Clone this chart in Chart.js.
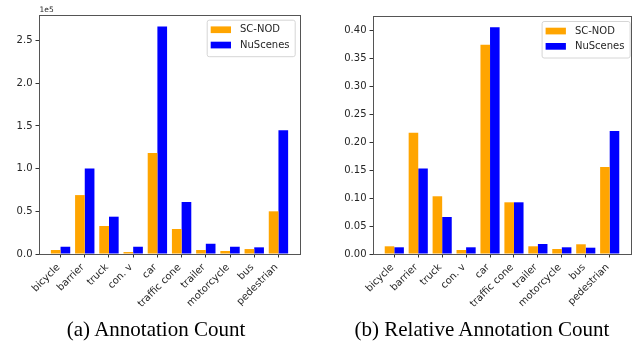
<!DOCTYPE html>
<html>
<head>
<meta charset="utf-8">
<script src="https://cdn.jsdelivr.net/npm/chart.js@4.4.0/dist/chart.umd.min.js"></script>
<style>
html, body { margin: 0; padding: 0; background: #fff; }
#wrap { position: relative; width: 634px; height: 343px; overflow: hidden; }
.panel { position: absolute; top: 0; width: 317px; height: 343px; }
.cap {
    position: absolute; top: 319px; line-height: 21px;
    font-family: "Liberation Serif", "Times New Roman", serif; font-size: 21px;
    color: #000; white-space: nowrap; transform: translateX(-50%);
}
</style>
</head>
<body>
<div id="wrap">
    <div class="panel" style="left:0"><canvas id="countChart" width="317" height="343"></canvas></div>
    <div class="panel" style="left:317px"><canvas id="relChart" width="317" height="343"></canvas></div>
    <div class="cap" style="left:156px">(a) Annotation Count</div>
    <div class="cap" style="left:482px">(b) Relative Annotation Count</div>
</div>
<script>
// Data
const categories = ['bicycle', 'barrier', 'truck', 'con. v', 'car', 'traffic cone', 'trailer', 'motorcycle', 'bus', 'pedestrian'];
const seriesNames = ['SC-NOD', 'NuScenes'];

const scnodCount    = [4700, 69000, 32800, 2300, 118300, 29300, 4700, 3500, 5800, 50000];
const nuscenesCount = [8500, 100000, 43700, 8500, 266600, 60900, 12000, 8500, 7800, 144800];

const scnodRel    = [0.0138, 0.217, 0.1034, 0.0072, 0.3746, 0.0926, 0.0138, 0.009, 0.0174, 0.156];
const nuscenesRel = [0.0120, 0.153, 0.0663, 0.0120, 0.4060, 0.0926, 0.0179, 0.012, 0.0113, 0.2204];

const countTicks = [0, 50000, 100000, 150000, 200000, 250000];
const relTicks = [0, 0.05, 0.10, 0.15, 0.20, 0.25, 0.30, 0.35, 0.40];

const ORANGE = '#FFA500';
const BLUE = '#0000FF';
const TEXT = '#262626';
const SPINE = '#555';

// frame round the plot area (all four spines), drawn above the bars
const framePlugin = {
    id: 'frame',
    afterDatasetsDraw(chart) {
        const { ctx, chartArea: a } = chart;
        ctx.save();
        ctx.strokeStyle = SPINE;
        ctx.lineWidth = 1;
        ctx.strokeRect(Math.round(a.left) + 0.5, Math.round(a.top) + 0.5,
            Math.round(a.right - a.left), Math.round(a.bottom - a.top));
        ctx.restore();
    }
};

// matplotlib-style legend box in the upper right corner
const legendBoxPlugin = {
    id: 'legendBox',
    afterDraw(chart, args, opts) {
        const { ctx, chartArea: a } = chart;
        const w = 88, h = 36.5;
        const x = a.right - opts.right - w;
        const y = a.top + opts.top;
        ctx.save();
        ctx.beginPath();
        ctx.roundRect(x + 0.5, y + 0.5, w, h, 2);
        ctx.fillStyle = 'rgba(255,255,255,0.8)';
        ctx.fill();
        ctx.strokeStyle = '#d6d6d6';
        ctx.lineWidth = 1;
        ctx.stroke();
        ctx.font = '10px "DejaVu Sans"';
        ctx.textBaseline = 'middle';
        chart.data.datasets.forEach((ds, i) => {
            ctx.fillStyle = ds.backgroundColor;
            ctx.fillRect(x + 4, y + 6.7 + i * 15.3, 20.3, 6.7);
            ctx.fillStyle = TEXT;
            ctx.fillText(ds.label, x + 33.3, y + 10.2 + i * 15.3);
        });
        ctx.restore();
        if (opts.offsetText) {
            ctx.save();
            ctx.font = '7.5px "DejaVu Sans"';
            ctx.fillStyle = TEXT;
            ctx.textBaseline = 'alphabetic';
            ctx.fillText(opts.offsetText, a.left + 0.5, 12.3);
            ctx.restore();
        }
    }
};

function makeChart(canvasId, sc, nu, yTicks, fmt, layout) {
    const top = Math.max(...sc, ...nu) * 1.05;
    return new Chart(document.getElementById(canvasId), {
        type: 'bar',
        data: {
            datasets: [
                {
                    label: seriesNames[0],
                    data: categories.map((c, i) => ({ x: i, y: sc[i] })),
                    backgroundColor: ORANGE,
                    categoryPercentage: 0.8,
                    barPercentage: 1.0
                },
                {
                    label: seriesNames[1],
                    data: categories.map((c, i) => ({ x: i, y: nu[i] })),
                    backgroundColor: BLUE,
                    categoryPercentage: 0.8,
                    barPercentage: 1.0
                }
            ]
        },
        options: {
            responsive: false,
            animation: false,
            layout: { padding: { left: 0, right: layout.right, top: layout.top, bottom: 0 } },
            plugins: {
                legend: { display: false },
                tooltip: { enabled: false },
                legendBox: { right: layout.legendRight, top: layout.legendTop, offsetText: layout.offsetText }
            },
            scales: {
                x: {
                    type: 'linear',
                    min: -0.89,
                    max: categories.length - 1 + 0.89,
                    offset: false,
                    afterBuildTicks: (scale) => {
                        scale.ticks = categories.map((c, i) => ({ value: i }));
                    },
                    afterFit: (scale) => { scale.height = 89; },
                    grid: { display: true, drawOnChartArea: false, offset: false, tickLength: 3.5, color: '#333' },
                    border: { display: false },
                    ticks: {
                        autoSkip: false,
                        minRotation: 45,
                        maxRotation: 45,
                        padding: 4,
                        labelOffset: -2,
                        color: TEXT,
                        font: { family: 'DejaVu Sans', size: 10 },
                        callback: (v) => categories[v] ?? ''
                    }
                },
                y: {
                    min: 0,
                    max: top,
                    afterBuildTicks: (scale) => {
                        scale.ticks = yTicks.map(v => ({ value: v }));
                    },
                    afterFit: (scale) => { scale.width = layout.left; },
                    grid: { display: true, drawOnChartArea: false, tickLength: 3.5, color: '#333' },
                    border: { display: false },
                    ticks: {
                        padding: 3,
                        color: TEXT,
                        font: { family: 'DejaVu Sans', size: 10 },
                        callback: fmt
                    }
                }
            }
        },
        plugins: [framePlugin, legendBoxPlugin]
    });
}

makeChart('countChart', scnodCount, nuscenesCount, countTicks,
    (v) => (v / 1e5).toFixed(1),
    { left: 39, right: 17, top: 15, legendRight: 5.3, legendTop: 4.7, offsetText: '1e5' });

makeChart('relChart', scnodRel, nuscenesRel, relTicks,
    (v) => v.toFixed(2),
    { left: 56, right: 3, top: 16, legendRight: 1.4, legendTop: 5, offsetText: null });
</script>
</body>
</html>
